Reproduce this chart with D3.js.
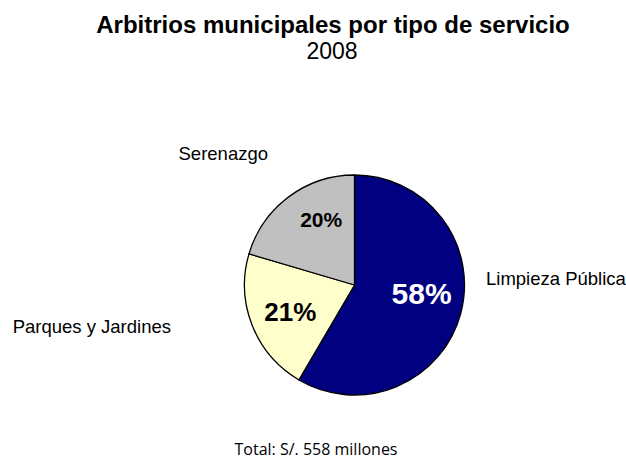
<!DOCTYPE html>
<html>
<head>
<meta charset="utf-8">
<script src="https://cdn.jsdelivr.net/npm/d3@7"></script>
<style>
  body { margin: 0; background: #fff; }
  svg text { font-family: "Liberation Sans", Arial, Helvetica, sans-serif; }
  svg text.foot { font-family: "Open Sans", sans-serif; }
</style>
</head>
<body>
<div id="chart"></div>
<script>
// slices in millions of soles (total 558)
var categories = ["Limpieza Pública", "Parques y Jardines", "Serenazgo"];
var values = [326, 118, 114];
var colors = ["#000080", "#FFFFCC", "#C0C0C0"];

var svgWidth = 626;
var svgHeight = 461;
var cx = 354.5, cy = 285, radius = 110;

// percentage label look and nudges from the arc centroid
var pctStyle = [
  {size: 30, fill: "#fff", dx: 0.5, dy: -10},
  {size: 26, fill: "#000", dx: 0, dy: 1.5},
  {size: 21, fill: "#000", dx: 8, dy: -10}
];
var catAnchor = ["start", "end", "end"];
var catPos = [[486, 285], [171, 333], [268, 160]];

var svg = d3.select("#chart")
  .append("svg")
  .attr("width", svgWidth)
  .attr("height", svgHeight);

// title
svg.append("text")
  .attr("x", 333)
  .attr("y", 33)
  .attr("text-anchor", "middle")
  .style("font-weight", "bold")
  .style("font-size", "24px")
  .text("Arbitrios municipales por tipo de servicio");

svg.append("text")
  .attr("x", 332)
  .attr("y", 59)
  .attr("text-anchor", "middle")
  .style("font-size", "23px")
  .text("2008");

var total = d3.sum(values);
var pie = d3.pie().sort(null).value(function(d) { return d; });
var arcs = pie(values);

var arc = d3.arc().innerRadius(0).outerRadius(radius);
var labelArc = d3.arc().innerRadius(69).outerRadius(69);

var g = svg.append("g")
  .attr("transform", "translate(" + cx + "," + cy + ")");

g.selectAll("path")
  .data(arcs)
  .enter()
  .append("path")
  .attr("d", arc)
  .attr("fill", function(d, i) { return colors[i]; })
  .attr("stroke", "#000")
  .attr("stroke-width", 1.3);

// percentage labels
g.selectAll("text.pct")
  .data(arcs)
  .enter()
  .append("text")
  .attr("class", "pct")
  .attr("x", function(d, i) { return labelArc.centroid(d)[0] + pctStyle[i].dx; })
  .attr("y", function(d, i) { return labelArc.centroid(d)[1] + pctStyle[i].dy; })
  .attr("dy", "0.36em")
  .attr("text-anchor", "middle")
  .style("font-weight", "bold")
  .style("font-size", function(d, i) { return pctStyle[i].size + "px"; })
  .attr("fill", function(d, i) { return pctStyle[i].fill; })
  .text(function(d) { return Math.round(d.value / total * 100) + "%"; });

// category labels
svg.selectAll("text.cat")
  .data(categories)
  .enter()
  .append("text")
  .attr("class", "cat")
  .attr("x", function(d, i) { return catPos[i][0]; })
  .attr("y", function(d, i) { return catPos[i][1]; })
  .attr("text-anchor", function(d, i) { return catAnchor[i]; })
  .style("font-size", "18.5px")
  .text(function(d) { return d; });

// footnote
svg.append("text")
  .attr("class", "foot")
  .attr("x", 316)
  .attr("y", 455)
  .attr("text-anchor", "middle")
  .style("font-size", "16px")
  .text("Total: S/. " + total + " millones");
</script>
</body>
</html>
